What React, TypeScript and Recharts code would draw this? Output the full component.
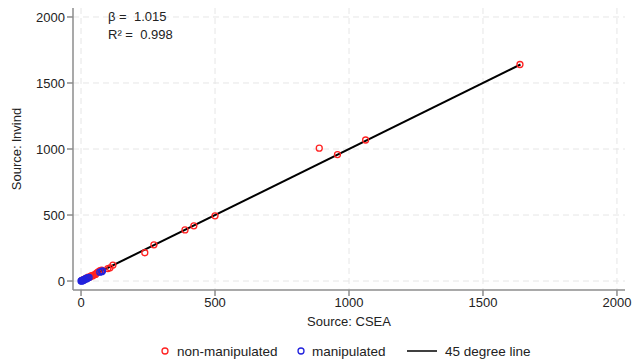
import { CartesianGrid, Scatter, ScatterChart, XAxis, YAxis } from "recharts";

// Source: CSEA (x) vs Source: lnvind (y)
const nonManipulated = [
  { x: 1638, y: 1640 },
  { x: 1062, y: 1068 },
  { x: 957, y: 958 },
  { x: 889, y: 1006 },
  { x: 500, y: 494 },
  { x: 421, y: 418 },
  { x: 388, y: 387 },
  { x: 272, y: 274 },
  { x: 238, y: 214 },
  { x: 119, y: 121 },
  { x: 108, y: 100 },
  { x: 100, y: 94 },
  { x: 77, y: 83 },
  { x: 71, y: 78 },
  { x: 64, y: 70 },
  { x: 58, y: 60 },
  { x: 54, y: 50 },
  { x: 48, y: 47 },
  { x: 44, y: 40 },
  { x: 39, y: 41 },
  { x: 35, y: 33 },
  { x: 30, y: 28 },
  { x: 26, y: 30 },
  { x: 21, y: 19 },
  { x: 15, y: 17 },
  { x: 12, y: 13 },
  { x: 9, y: 8 },
  { x: 5, y: 6 },
];

const manipulated = [
  { x: 0, y: 0 },
  { x: 2, y: 3 },
  { x: 4, y: 1 },
  { x: 6, y: 7 },
  { x: 8, y: 4 },
  { x: 10, y: 11 },
  { x: 13, y: 9 },
  { x: 16, y: 15 },
  { x: 19, y: 21 },
  { x: 22, y: 17 },
  { x: 26, y: 24 },
  { x: 30, y: 27 },
  { x: 70, y: 67 },
  { x: 77, y: 71 },
  { x: 80, y: 76 },
];

const diagonal = [
  { x: 0, y: 0 },
  { x: 1640, y: 1640 },
];

const xTicks = [0, 500, 1000, 1500, 2000];
const yTicks = [0, 500, 1000, 1500, 2000];

const beta = "1.015";
const r2 = "0.998";

const FONT = "'Liberation Sans', Arial, sans-serif";
const AXIS = "#8c8c8c";
const RED = "#f22";
const BLUE = "#2222dd";

const Ring = (color: string) => (props: any) =>
  <circle cx={props.cx} cy={props.cy} r={3} fill="none" stroke={color} strokeWidth={1.3} />;

export default function App() {
  return (
    <div style={{ position: "absolute", left: 0, top: 0, width: 632, height: 362, background: "#fff", fontFamily: FONT }}>
      <ScatterChart width={632} height={362} margin={{ top: 8, right: 7, bottom: 32, left: 0 }}>
        <CartesianGrid stroke="#e6e6e6" strokeDasharray="6 4" horizontalValues={yTicks} verticalValues={xTicks} />
        <XAxis
          type="number"
          dataKey="x"
          domain={[-30, 2030]}
          ticks={xTicks}
          allowDataOverflow
          stroke={AXIS}
          strokeWidth={1.5}
          tickSize={6}
          tick={{ fill: "#222", fontSize: 13, fontFamily: FONT }}
          label={{ value: "Source: CSEA", position: "insideBottom", offset: 4, fill: "#222", fontSize: 13, fontFamily: FONT }}
          height={40}
        />
        <YAxis
          type="number"
          dataKey="y"
          domain={[-68, 2068]}
          ticks={yTicks}
          allowDataOverflow
          width={73}
          stroke={AXIS}
          strokeWidth={1.5}
          tickSize={6}
          tick={{ fill: "#222", fontSize: 13, fontFamily: FONT }}
          label={{ value: "Source: lnvind", angle: -90, position: "insideLeft", offset: 16, fill: "#222", fontSize: 13, fontFamily: FONT, style: { textAnchor: "middle" } }}
        />
        <Scatter data={diagonal} line={{ stroke: "#000", strokeWidth: 2 }} shape={() => null} isAnimationActive={false} />
        <Scatter data={nonManipulated} shape={Ring(RED)} isAnimationActive={false} />
        <Scatter data={manipulated} shape={Ring(BLUE)} isAnimationActive={false} />
      </ScatterChart>

      <div style={{ position: "absolute", left: 108, top: 8, fontSize: 13, color: "#222", lineHeight: "18px" }}>
        <div>β =&nbsp; {beta}</div>
        <div>R² =&nbsp; {r2}</div>
      </div>

      <svg width={632} height={22} style={{ position: "absolute", left: 0, top: 340 }}>
        <g fontFamily={FONT} fontSize={13.5} fill="#222">
          <circle cx={165} cy={11} r={3} fill="none" stroke={RED} strokeWidth={1.3} />
          <text x={177} y={16}>non-manipulated</text>
          <circle cx={301} cy={11} r={3} fill="none" stroke={BLUE} strokeWidth={1.3} />
          <text x={312} y={16}>manipulated</text>
          <line x1={407} y1={11} x2={437} y2={11} stroke="#000" strokeWidth={1.5} />
          <text x={445} y={16}>45 degree line</text>
        </g>
      </svg>
    </div>
  );
}
